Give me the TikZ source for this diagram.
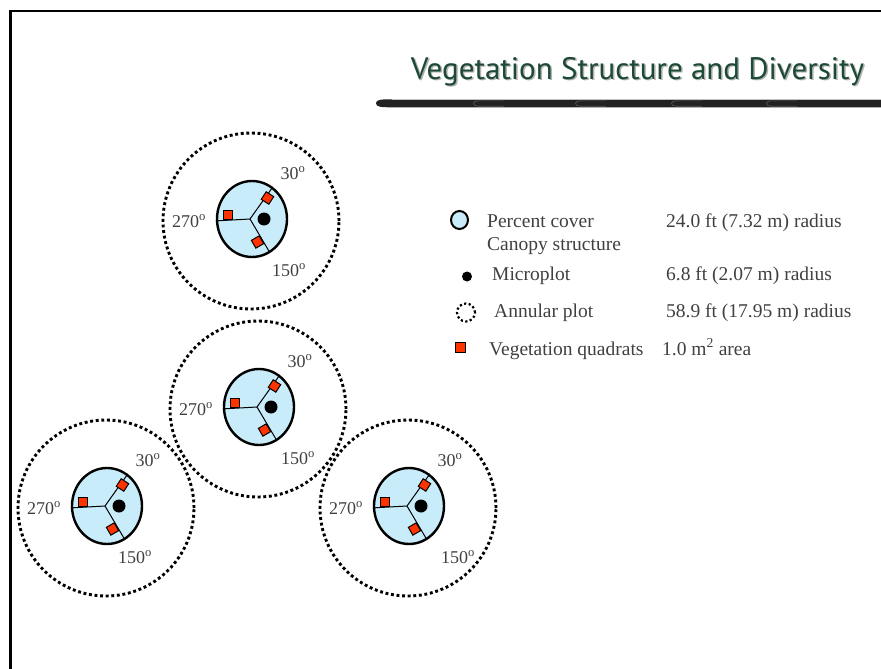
\documentclass[tikz,border=0pt]{standalone}
\usepackage{fontspec}
\setmainfont{Liberation Serif}
\newfontfamily\titlefont{PT Sans}
\usetikzlibrary{shapes.geometric}
\definecolor{canopyblue}{RGB}{200,236,250}
\definecolor{quadred}{RGB}{255,51,0}
\definecolor{titlegreen}{RGB}{28,74,52}
\definecolor{labelgray}{RGB}{64,64,64}
\definecolor{bargray}{RGB}{34,34,34}
\tikzset{
  canopy/.style={ellipse, draw, line width=2.4pt, fill=canopyblue, minimum width=70pt, minimum height=76pt, inner sep=0pt},
  annular/.style={circle, draw, line width=2.9pt, dash pattern=on 2.9pt off 2.7pt, minimum size=176pt, inner sep=0pt},
  microplot/.style={circle, fill=black, minimum size=13pt, inner sep=0pt},
  quadrat/.style={rectangle, draw, line width=1pt, fill=quadred, minimum size=9pt, inner sep=0pt},
  bearing/.style={font=\fontsize{18}{18}\selectfont, text=labelgray, inner sep=0pt},
  legend/.style={font=\fontsize{19.5}{23}\selectfont, text=labelgray, anchor=base west, inner sep=0pt},
}
\begin{document}
\begin{tikzpicture}[x=1pt,y=1pt]
  \useasboundingbox (0,0) rectangle (881,-669);
  % frame and title
  \draw[line width=2.5pt] (10.3,-669) -- (10.3,-11.2) -- (881,-11.2);
  \node[font=\titlefont\fontsize{31}{31}\selectfont, text=black!30, anchor=base] (titleshadow) at (639,-80.5) {Vegetation Structure and Diversity};
  \node[font=\titlefont\fontsize{31}{31}\selectfont, text=titlegreen, anchor=base] (title) at (637.5,-79) {Vegetation Structure and Diversity};
  \fill[bargray] (376,-103.3) .. controls (376,-99.5) and (381,-99.3) .. (392,-99.3) -- (881,-99.3) -- (881,-107.3) -- (392,-107.3) .. controls (381,-107.3) and (376,-107) .. (376,-103.3);
  \draw[black!25, line width=0.6pt] (392,-99.5) -- (881,-99.5);
  \foreach \s in {472,574,670,765}
    \draw[black!65, line width=0.6pt] (\s+32,-100.8) -- (\s+6,-100.8) .. controls (\s,-100.8) and (\s,-106.2) .. (\s+6,-106.2) -- (\s+32,-106.2);

  % plots
  \foreach \n/\x/\y/\d in {1/252/219/37, 2/259/407/39, 3/107/506/28, 4/409/506/49} {
    \node[annular] (a\n) at (\x-1,-\y-2) {};
    \node[canopy] (c\n) at (\x,-\y) {};
    \coordinate (h\n) at (\x-2,-\y);
    \draw[line width=1pt] (h\n) -- (c\n.183);
    \draw[line width=1pt] (h\n) -- (c\n.57);
    \draw[line width=1pt] (h\n) -- (c\n.-62);
    \node[microplot] (m\n) at (\x+12,-\y) {};
    \node[quadrat] (qw\n) at (\x-24,-\y+4) {};
    \node[quadrat, rotate=57] (qn\n) at (\x+15.5,-\y+21) {};
    \node[quadrat, rotate=-60] (qs\n) at (\x+5.5,-\y-23) {};
    \node[bearing] (u\n) at (\x+41,-\y+46) {30\textsuperscript{o}};
    \node[bearing] (w\n) at (\x-63,-\y-2) {270\textsuperscript{o}};
    \node[bearing] (s\n) at (\x+\d,-\y-51) {150\textsuperscript{o}};
  }

  % legend
  \node[canopy, minimum width=17pt, minimum height=18pt, line width=2pt] (keycanopy) at (459.5,-220) {};
  \node[microplot, minimum size=10pt] (keymicro) at (467,-276.5) {};
  \node[annular, minimum size=18pt, line width=2.2pt, dash pattern=on 2.2pt off 2.4pt] (keyannular) at (466,-312.5) {};
  \node[quadrat, minimum size=10pt, line width=1.5pt] (keyquadrat) at (460.5,-347.5) {};
  \node[legend] (txtcover) at (487,-227) {Percent cover};
  \node[legend] (txtcanopy) at (487,-250) {Canopy structure};
  \node[legend] (txtmicro) at (492,-280) {Microplot};
  \node[legend] (txtannular) at (494,-317) {Annular plot};
  \node[legend] (txtquadrat) at (489,-355) {Vegetation quadrats};
  \node[legend] (sizecover) at (666,-227) {24.0 ft (7.32 m) radius};
  \node[legend] (sizemicro) at (666,-280) {6.8 ft (2.07 m) radius};
  \node[legend] (sizeannular) at (666,-317) {58.9 ft (17.95 m) radius};
  \node[legend] (sizequadrat) at (662,-355) {1.0 m\textsuperscript{2} area};
\end{tikzpicture}
\end{document}
